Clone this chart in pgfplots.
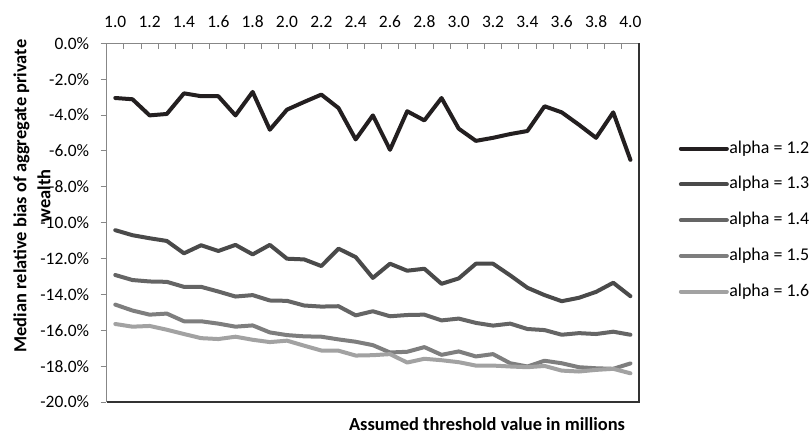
\documentclass[border=0pt]{standalone}
\usepackage{pgfplots}
\pgfplotsset{compat=1.18}
\usepackage{pgfplotstable}
\usetikzlibrary{calc}
\usepackage{fontspec}
\setmainfont{Carlito}
\definecolor{c12}{HTML}{231F20}
\definecolor{c13}{HTML}{4A4A4A}
\definecolor{c14}{HTML}{656565}
\definecolor{c15}{HTML}{7E7E7E}
\definecolor{c16}{HTML}{A2A2A2}
\definecolor{axgray}{HTML}{878787}
\pgfplotstableread{
x a12 a13 a14 a15 a16
1.0 -3.05 -10.42 -12.92 -14.57 -15.65
1.1 -3.12 -10.70 -13.20 -14.90 -15.80
1.2 -4.02 -10.87 -13.28 -15.13 -15.76
1.3 -3.94 -11.02 -13.30 -15.07 -15.97
1.4 -2.79 -11.71 -13.58 -15.50 -16.21
1.5 -2.95 -11.26 -13.58 -15.50 -16.44
1.6 -2.95 -11.58 -13.84 -15.63 -16.49
1.7 -4.02 -11.24 -14.12 -15.80 -16.36
1.8 -2.71 -11.77 -14.04 -15.73 -16.53
1.9 -4.82 -11.24 -14.34 -16.12 -16.66
2.0 -3.70 -12.01 -14.36 -16.27 -16.58
2.1 -3.27 -12.05 -14.62 -16.34 -16.86
2.2 -2.86 -12.42 -14.68 -16.36 -17.13
2.3 -3.61 -11.45 -14.66 -16.51 -17.14
2.4 -5.36 -11.92 -15.17 -16.64 -17.41
2.5 -4.02 -13.08 -14.94 -16.83 -17.39
2.6 -5.94 -12.29 -15.22 -17.24 -17.33
2.7 -3.79 -12.68 -15.15 -17.20 -17.80
2.8 -4.30 -12.57 -15.13 -16.94 -17.59
2.9 -3.05 -13.41 -15.45 -17.37 -17.67
3.0 -4.76 -13.11 -15.35 -17.18 -17.78
3.1 -5.44 -12.29 -15.59 -17.46 -17.97
3.2 -5.27 -12.29 -15.74 -17.33 -17.97
3.3 -5.06 -12.94 -15.63 -17.84 -18.02
3.4 -4.89 -13.63 -15.93 -18.02 -18.06
3.5 -3.51 -14.04 -15.99 -17.70 -17.99
3.6 -3.85 -14.38 -16.25 -17.84 -18.25
3.7 -4.54 -14.19 -16.16 -18.06 -18.30
3.8 -5.27 -13.86 -16.21 -18.12 -18.21
3.9 -3.85 -13.35 -16.08 -18.15 -18.15
4.0 -6.50 -14.10 -16.25 -17.85 -18.40
}\datatable
\begin{document}
\begin{tikzpicture}
\path[use as bounding box] (0,0) rectangle (811bp,434bp);
\begin{axis}[
  at={(106.7bp,32bp)}, anchor=south west,
  scale only axis, width=532.3bp, height=358.7bp,
  xmin=0.95, xmax=4.05, ymin=-20, ymax=0,
  axis line style={draw=none},
  xtick={1.05,1.15,1.25,1.35,1.45,1.55,1.65,1.75,1.85,1.95,2.05,2.15,2.25,2.35,2.45,2.55,2.65,2.75,2.85,2.95,3.05,3.15,3.25,3.35,3.45,3.55,3.65,3.75,3.85,3.95},
  xticklabels={},
  extra x ticks={1.0,1.2,1.4,1.6,1.8,2.0,2.2,2.4,2.6,2.8,3.0,3.2,3.4,3.6,3.8,4.0},
  extra x tick labels={1.0,1.2,1.4,1.6,1.8,2.0,2.2,2.4,2.6,2.8,3.0,3.2,3.4,3.6,3.8,4.0},
  extra x tick style={tick style={draw=none}},
  xtick pos=top, xticklabel pos=top,
  ytick={-20,-18,-16,-14,-12,-10,-8,-6,-4,-2,0},
  yticklabels={-20.0\%,-18.0\%,-16.0\%,-14.0\%,-12.0\%,-10.0\%,-8.0\%,-6.0\%,-4.0\%,-2.0\%,0.0\%},
  ytick pos=left,
  /pgf/number format/assume math mode=true,
  tick style={draw=axgray, line width=0.9bp},
  major tick length=5.5bp,
  tick align=inside,
  y tick style={xshift=-6bp},
  yticklabel style={font=\fontsize{17.5}{20}\selectfont, inner sep=0pt, anchor=east, xshift=-17.4bp},
  xticklabel style={font=\fontsize{17.5}{20}\selectfont, inner sep=0pt, anchor=south, yshift=15bp},
  every axis y label/.style={at={($(rel axis cs:0,0.574)+(-74.7bp,0)$)}, rotate=90, anchor=center,
    font=\bfseries\fontsize{18.5}{24}\selectfont, align=center},
  every axis x label/.style={at={(rel axis cs:0.7145,0)}, anchor=center, yshift=-22.5bp,
    font=\bfseries\fontsize{18.5}{20}\selectfont},
  ylabel={Median relative bias of aggregate private\\wealth},
  xlabel={Assumed threshold value in millions},
  legend style={draw=none, fill=none, inner sep=0pt, at={(rel axis cs:1.0745,0.507)}, anchor=west,
    row sep=19.7bp, column sep=0pt,
    nodes={inner sep=0pt, inner xsep=0.5bp, text height=12.5bp, text depth=3.5bp, font=\fontsize{18}{20}\selectfont}},
  legend cell align=left,
  legend image code/.code={\draw[#1, line cap=round] (0bp,0bp) -- (46bp,0bp);},
  every axis plot/.append style={line width=4bp, line join=round, line cap=round},
  clip=false,
]
\addplot[c12] table[x=x,y=a12] {\datatable};
\addplot[c13] table[x=x,y=a13] {\datatable};
\addplot[c14] table[x=x,y=a14] {\datatable};
\addplot[c15] table[x=x,y=a15] {\datatable};
\addplot[c16] table[x=x,y=a16] {\datatable};
\legend{alpha = 1.2,alpha = 1.3,alpha = 1.4,alpha = 1.5,alpha = 1.6}
\draw[axgray, line width=1.2bp] (rel axis cs:0,0) -- (rel axis cs:0,1) -- (rel axis cs:1,1);
\draw[black!80, line width=1.1bp] (rel axis cs:0,0) -- (rel axis cs:1,0) -- (rel axis cs:1,1);
\end{axis}
\end{tikzpicture}
\end{document}
